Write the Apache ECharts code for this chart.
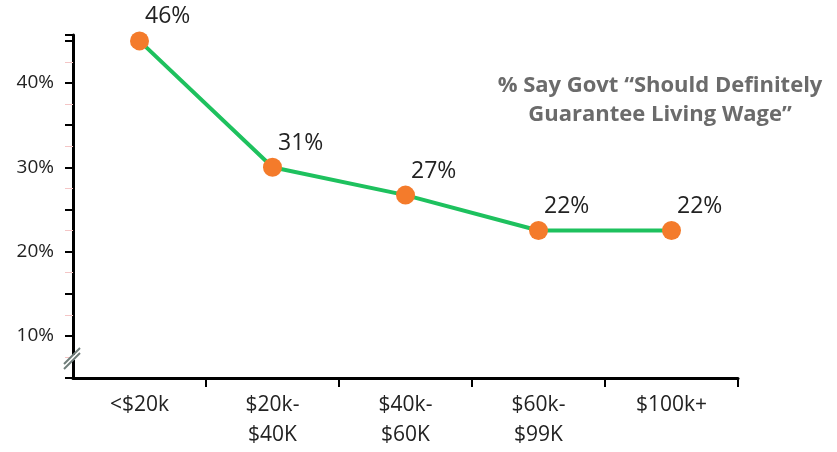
<!DOCTYPE html>
<html>
<head>
<meta charset="utf-8">
<script src="https://cdn.jsdelivr.net/npm/echarts@6/dist/echarts.min.js"></script>
<style>
  html, body { margin: 0; padding: 0; background: #fff; }
  #chart { width: 837px; height: 452px; }
</style>
</head>
<body>
<div id="chart"></div>
<script>
// income brackets
const categories = ['<$20k', '$20k-\n$40K', '$40k-\n$60K', '$60k-\n$99K', '$100k+'];
// plotted position of each point
const values = [45, 30, 26.7, 22.5, 22.5];
// labels printed next to the points
const pointLabels = ['46%', '31%', '27%', '22%', '22%'];
const yLabels = [10, 20, 30, 40];

const font = '"Open Sans", "Noto Sans", sans-serif';
const chart = echarts.init(document.getElementById('chart'));

chart.setOption({
  animation: false,
  grid: { left: 73, right: 99, top: 35, bottom: 74 },
  title: {
    text: '% Say Govt \u201cShould Definitely\nGuarantee Living Wage\u201d',
    left: 655,
    top: 66,
    textAlign: 'center',
    textStyle: {
      fontFamily: font,
      fontSize: 22,
      fontWeight: 'bold',
      color: '#6b6b6b',
      lineHeight: 29,
      align: 'center',
    },
  },
  xAxis: {
    type: 'category',
    data: categories,
    axisLine: { lineStyle: { color: '#000', width: 3 } },
    axisTick: {
      show: true,
      length: 9,
      interval: (i) => i !== 0,
      lineStyle: { color: '#000', width: 2 },
    },
    axisLabel: {
      color: '#222',
      fontFamily: font,
      fontSize: 21,
      lineHeight: 30,
      margin: 12,
    },
  },
  yAxis: {
    type: 'value',
    min: 5,
    max: 45.7,
    interval: 5,
    splitLine: { show: false },
    axisLine: { show: true, lineStyle: { color: '#000', width: 3 } },
    axisTick: { show: true, length: 8, lineStyle: { color: '#000', width: 2 } },
    minorTick: { show: true, splitNumber: 2, length: 8, lineStyle: { color: '#f4c6c6', width: 1 } },
    axisLabel: {
      color: '#222',
      fontFamily: font,
      fontSize: 19,
      margin: 19,
      formatter: (v) => (yLabels.indexOf(v) >= 0 ? v + '%' : ''),
    },
  },
  graphic: [
    { type: 'line', shape: { x1: 64, y1: 364, x2: 80, y2: 348 }, style: { stroke: '#6f7d7a', lineWidth: 2 }, z: 100 },
    { type: 'line', shape: { x1: 64, y1: 369, x2: 80, y2: 353 }, style: { stroke: '#6f7d7a', lineWidth: 2 }, z: 100 },
    { type: 'rect', shape: { x: 70, y: 355, width: 7, height: 5 }, style: { fill: '#fff' }, z: 99 },
  ],
  series: [{
    type: 'line',
    data: values,
    symbol: 'circle',
    symbolSize: 19,
    lineStyle: { color: '#1ec15e', width: 4 },
    itemStyle: { color: '#f47b2b', borderWidth: 0 },
    label: {
      show: true,
      position: [15, -26],
      color: '#222',
      fontFamily: font,
      fontSize: 23,
      formatter: (p) => pointLabels[p.dataIndex],
    },
  }],
});
</script>
</body>
</html>
